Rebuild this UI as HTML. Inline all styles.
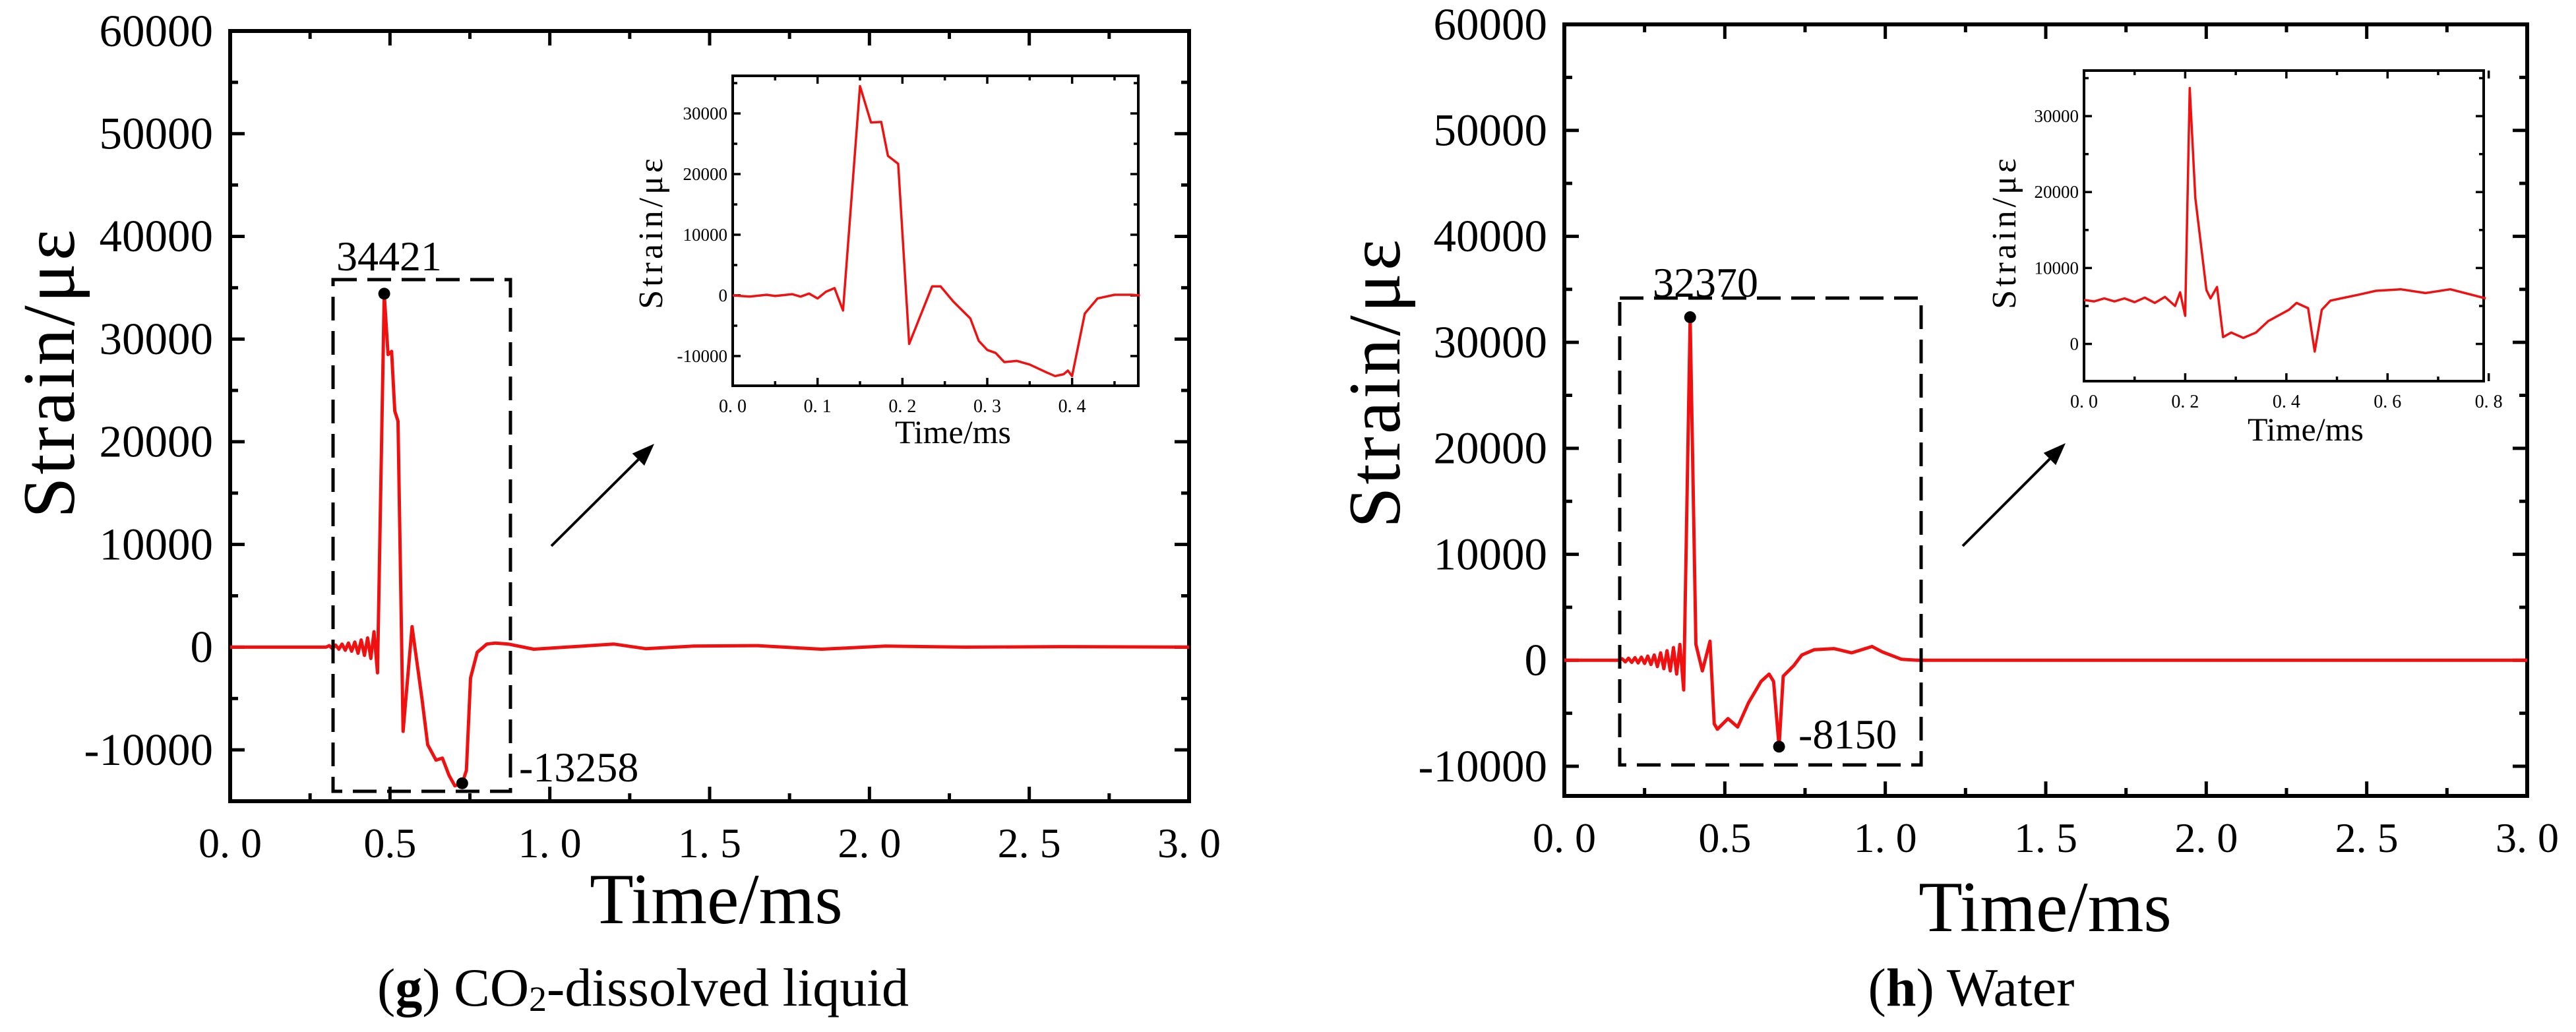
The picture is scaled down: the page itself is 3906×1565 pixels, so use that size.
<!DOCTYPE html>
<html><head><meta charset="utf-8">
<style>
html,body{margin:0;padding:0;background:#fff;}
svg{display:block;}
text{font-family:"Liberation Serif",serif;fill:#000;}
</style></head>
<body>
<svg id="chart" width="3906" height="1565" viewBox="0 0 3906 1565" xmlns="http://www.w3.org/2000/svg" font-family="Liberation Serif, serif"></svg>
<script>
// ---------- data ----------
const gTime = [0,0.30,0.31,0.32,0.33,0.34,0.35,0.36,0.37,0.38,0.39,0.40,0.41,0.42,0.43,0.44,0.45,0.461,0.482,0.494,0.505,0.515,0.525,0.541,0.569,0.60,0.618,0.644,0.664,0.685,0.703,0.726,0.739,0.752,0.773,0.803,0.83,0.87,0.95,1.05,1.2,1.3,1.45,1.65,1.85,2.05,2.3,2.6,3.0];
const gStrain = [0,0,150,-150,200,-200,300,-300,400,-400,500,-600,700,-800,900,-1100,1500,-2500,34421,28500,28800,23000,22000,-8200,2000,-5000,-9500,-11000,-10800,-12500,-13500,-13258,-12000,-3000,-500,300,400,300,-200,0,300,-150,100,150,-200,100,0,50,0];
const gInsetTime = [0,0.02,0.04,0.05,0.07,0.08,0.09,0.10,0.11,0.12,0.13,0.15,0.163,0.175,0.183,0.195,0.208,0.235,0.245,0.26,0.28,0.29,0.30,0.31,0.32,0.335,0.35,0.37,0.38,0.39,0.395,0.40,0.415,0.43,0.45,0.47,0.48];
const gInsetStrain = [0,-200,100,-100,200,-200,300,-500,600,1200,-2500,34500,28500,28600,23000,21700,-8000,1500,1500,-1000,-3800,-7500,-9000,-9500,-11000,-10800,-11400,-12700,-13300,-13000,-12400,-13300,-3000,-500,100,100,0];
const hTime = [0,0.17,0.18,0.19,0.20,0.21,0.22,0.23,0.24,0.25,0.26,0.27,0.28,0.29,0.30,0.31,0.32,0.33,0.34,0.35,0.36,0.372,0.392,0.41,0.43,0.454,0.467,0.477,0.51,0.54,0.574,0.613,0.638,0.652,0.669,0.682,0.715,0.74,0.779,0.84,0.895,0.959,0.99,1.05,1.1,1.5,2.0,3.0];
const hStrain = [0,0,150,-150,200,-200,250,-250,300,-300,400,-400,500,-600,700,-800,900,-1000,1200,-1300,1500,-2800,32370,1500,-1000,1800,-6000,-6500,-5500,-6300,-4000,-2000,-1300,-2000,-8150,-1500,-500,500,1000,1100,700,1300,800,100,0,0,0,0];
const hInsetTime = [0,0.02,0.04,0.06,0.08,0.10,0.12,0.14,0.16,0.18,0.19,0.20,0.209,0.22,0.242,0.25,0.263,0.275,0.291,0.315,0.34,0.364,0.405,0.42,0.443,0.456,0.47,0.487,0.544,0.577,0.626,0.675,0.724,0.794];
const hInsetStrain = [5800,5600,6000,5600,6000,5500,6100,5400,6200,5000,6800,3700,33700,19200,7100,6000,7500,900,1500,800,1500,3000,4500,5400,4700,-1000,4500,5700,6500,7000,7200,6700,7200,6000];

const yTicksMain = [60000,50000,40000,30000,20000,10000,0,-10000];
const yTickLabelsMain = ["60000","50000","40000","30000","20000","10000","0","-10000"];
const xTicksMain = [0,0.5,1.0,1.5,2.0,2.5,3.0];
const xTickLabelsMain = ["0. 0","0.5","1. 0","1. 5","2. 0","2. 5","3. 0"];
const gInsetXTicks = [0,0.1,0.2,0.3,0.4];
const gInsetXLabels = ["0. 0","0. 1","0. 2","0. 3","0. 4"];
const gInsetYTicks = [30000,20000,10000,0,-10000];
const gInsetYLabels = ["30000","20000","10000","0","-10000"];
const hInsetXTicks = [0,0.2,0.4,0.6,0.8];
const hInsetXLabels = ["0. 0","0. 2","0. 4","0. 6","0. 8"];
const hInsetYTicks = [30000,20000,10000,0];
const hInsetYLabels = ["30000","20000","10000","0"];

const NS = "http://www.w3.org/2000/svg";
const svg = document.getElementById('chart');
function mk(tag, attrs, parent){
  const e = document.createElementNS(NS, tag);
  for (const k in attrs) e.setAttribute(k, attrs[k]);
  (parent||svg).appendChild(e);
  return e;
}
function scale(d0,d1,r0,r1){return v => r0 + (v-d0)/(d1-d0)*(r1-r0);}

function drawAxes(g, box, xs, ys, xt, xl, yt, yl, minorX, minorY, o){
  const fr = mk('rect',{x:box.x0,y:box.y0,width:box.x1-box.x0,height:box.y1-box.y0,fill:'none',stroke:'#000','stroke-width':o.fw},g);
  
  
  const tg = mk('g',{stroke:'#000','stroke-width':o.tw},g);
  
  
  xt.forEach((v,i)=>{
    const x = xs(v);
    mk('line',{x1:x,y1:box.y1,x2:x,y2:box.y1-o.maj},tg);
    mk('line',{x1:x,y1:box.y0,x2:x,y2:box.y0+o.maj},tg);
    const t = mk('text',{x:x,y:box.y1+o.xlo,'font-size':o.xfs,'text-anchor':'middle'},g);
    t.textContent = xl[i];
    
    
  });
  minorX.forEach(v=>{
    const x = xs(v);
    mk('line',{x1:x,y1:box.y1,x2:x,y2:box.y1-o.min},tg);
    mk('line',{x1:x,y1:box.y0,x2:x,y2:box.y0+o.min},tg);
  });
  yt.forEach((v,i)=>{
    const y = ys(v);
    mk('line',{x1:box.x0,y1:y,x2:box.x0+o.maj,y2:y},tg);
    mk('line',{x1:box.x1,y1:y,x2:box.x1-o.maj,y2:y},tg);
    const t = mk('text',{x:box.x0-o.ylo,y:y+o.yfs*0.33,'font-size':o.yfs,'text-anchor':'end'},g);
    t.textContent = yl[i];
    
    
  });
  minorY.forEach(v=>{
    const y = ys(v);
    mk('line',{x1:box.x0,y1:y,x2:box.x0+o.min,y2:y},tg);
    mk('line',{x1:box.x1,y1:y,x2:box.x1-o.min,y2:y},tg);
  });
}
function drawLine(g, xs, ys, T, V, w, name){
  const d = T.map((t,i)=>(i?'L':'M')+xs(t).toFixed(1)+' '+ys(V[i]).toFixed(1)).join(' ');
  const p = mk('path',{d:d,fill:'none',stroke:'#f01010','stroke-width':w,'stroke-linejoin':'round'},g);
  
  
}
function title(g, x, y, txt, fs, rot, name, ls){
  const t = mk('text',{x:x,y:y,'font-size':fs,'text-anchor':'middle'},g);
  if (ls) t.setAttribute('letter-spacing', ls);
  if (rot) t.setAttribute('transform','rotate(-90 '+x+' '+y+')');
  t.textContent = txt;
  
  
  return t;
}
function range(a,b,s){const r=[];for(let v=a;v<=b+1e-9;v+=s)r.push(+v.toFixed(4));return r;}

function panel(P){
  const g = mk('g',{});
  
  
  const box = P.box;
  const xs = scale(0,3,box.x0,box.x1), ys = scale(P.ymin,60000,box.y1,box.y0);
  drawAxes(g, box, xs, ys, xTicksMain, xTickLabelsMain, yTicksMain, yTickLabelsMain,
    range(0.25,2.75,0.5), range(-5000,55000,10000).filter(v=>v>P.ymin),
    {pre:'', fw:6, tw:5, maj:22, min:12, xfs:64, xlo:85, yfs:69, ylo:26});
  drawLine(g, xs, ys, P.T, P.V, 5, 'strain-curve');
  title(g, P.xtx, P.xty, 'Time/ms', 109, false, 'x-axis-title');
  title(g, P.ytx, P.yty, 'Strain/\u03bc\u03b5', 112, true, 'y-axis-title', 4);
  const db = mk('rect',{x:P.db[0],y:P.db[1],width:P.db[2]-P.db[0],height:P.db[3]-P.db[1],fill:'none',stroke:'#000','stroke-width':5,'stroke-dasharray':'36 16'},g);
  
  
  P.marks.forEach(m=>{
    const c = mk('circle',{cx:xs(m.t),cy:ys(m.v),r:9,fill:'#000'},g);
    
    
    const t = mk('text',{x:m.lx,y:m.ly,'font-size':64,'text-anchor':'start'},g);
    t.textContent = m.label;
    
    
  });
  const a = P.arrow;
  const ang = Math.atan2(a[3]-a[1], a[2]-a[0]);
  const L = 34, W = 13;
  const bx = a[2]-L*Math.cos(ang), by = a[3]-L*Math.sin(ang);
  const ar = mk('g',{},g);
  
  
  mk('line',{x1:a[0],y1:a[1],x2:bx,y2:by,stroke:'#000','stroke-width':4},ar);
  mk('polygon',{points:[a[2],a[3],bx-W*Math.sin(ang),by+W*Math.cos(ang),bx+W*Math.sin(ang),by-W*Math.cos(ang)].join(','),fill:'#000'},ar);
  const ig = mk('g',{},g);
  
  
  const ib = P.ibox;
  const ixs = scale(0,P.ixmax,ib.x0,ib.x1), iys = scale(P.iymin,P.iymax,ib.y1,ib.y0);
  mk('rect',{x:ib.x0,y:ib.y0,width:ib.x1-ib.x0,height:ib.y1-ib.y0,fill:'#fff'},ig);
  drawAxes(ig, ib, ixs, iys, P.ixt, P.ixl, P.iyt, P.iyl, P.ixm, P.iym,
    {pre:'inset-', fw:4, tw:3.5, maj:12, min:7, xfs:28, xlo:40, yfs:27, ylo:8});
  drawLine(ig, ixs, iys, P.IT, P.IV, 3.5, 'inset-strain-curve');
  title(ig, P.ixtx, P.ixty, 'Time/ms', 50, false, 'inset-x-axis-title');
  title(ig, P.iytx, P.iyty, 'Strain/\u03bc\u03b5', 52, true, 'inset-y-axis-title', 5);
  const cap = mk('text',{x:P.capx,y:1525,'font-size':82,'text-anchor':'middle'},g);
  
  
  cap.innerHTML = P.cap;
}

panel({name:'panel-g-co2', box:{x0:349,y0:47,x1:1803,y1:1215}, ymin:-15000, T:gTime, V:gStrain,
  xtx:1086, xty:1400, ytx:112, yty:565, db:[505,424,774,1200],
  marks:[{t:0.482,v:34421,label:'34421',lx:510,ly:410},{t:0.726,v:-13258,label:'-13258',lx:787,ly:1185}],
  arrow:[836,828,992,673],
  ibox:{x0:1111,y0:115,x1:1726,y1:585}, ixmax:0.478, iymin:-14900, iymax:36200,
  ixt:gInsetXTicks, ixl:gInsetXLabels, iyt:gInsetYTicks, iyl:gInsetYLabels,
  ixm:[0.05,0.15,0.25,0.35,0.45], iym:[-5000,5000,15000,25000,35000],
  IT:gInsetTime, IV:gInsetStrain, ixtx:1445, ixty:672, iytx:1004, iyty:352,
  capx:975, cap:'(<tspan font-weight="bold">g</tspan>) CO<tspan font-size="54" dy="8">2</tspan><tspan dy="-8">-dissolved liquid</tspan>'});

panel({name:'panel-h-water', box:{x0:2372,y0:37,x1:3832,y1:1207}, ymin:-12800, T:hTime, V:hStrain,
  xtx:3101, xty:1412, ytx:2122, yty:580, db:[2456,452,2913,1160],
  marks:[{t:0.392,v:32370,label:'32370',lx:2506,ly:450},{t:0.669,v:-8150,label:'-8150',lx:2727,ly:1135}],
  arrow:[2976,828,3132,672],
  ibox:{x0:3160,y0:107,x1:3766,y1:578}, ixmax:0.79, iymin:-4900, iymax:36000,
  ixt:hInsetXTicks, ixl:hInsetXLabels, iyt:hInsetYTicks, iyl:hInsetYLabels,
  ixm:[0.1,0.3,0.5,0.7], iym:[5000,15000,25000,35000],
  IT:hInsetTime, IV:hInsetStrain, ixtx:3496, ixty:668, iytx:3056, iyty:352,
  capx:2989, cap:'(<tspan font-weight="bold">h</tspan>) Water'});
</script>
</body></html>
